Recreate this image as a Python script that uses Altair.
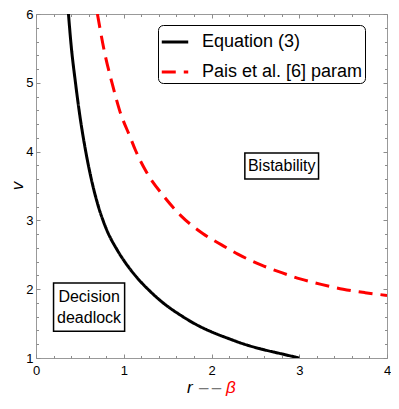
import altair as alt
import pandas as pd

# ---- data ----
series_names = ["Equation (3)", "Pais et al. [6] param"]

eq_r = [0.37, 0.40, 0.45, 0.50, 0.56, 0.62, 0.70, 0.80, 0.93, 1.05, 1.15, 1.30,
        1.45, 1.65, 1.82, 2.00, 2.20, 2.40, 2.60, 2.80, 3.00]
eq_v = [6.00, 5.55, 5.00, 4.52, 4.05, 3.66, 3.25, 2.88, 2.56, 2.33, 2.17, 1.97,
        1.80, 1.62, 1.49, 1.38, 1.28, 1.19, 1.12, 1.06, 1.00]

pais_r = [0.70, 0.78, 0.87, 0.95, 1.08, 1.13, 1.26, 1.45, 1.65, 1.90, 2.12, 2.30,
          2.57, 2.80, 3.01, 3.25, 3.50, 3.75, 4.00]
pais_v = [6.00, 5.45, 4.98, 4.61, 4.19, 4.03, 3.70, 3.36, 3.07, 2.81, 2.64, 2.51,
          2.35, 2.24, 2.15, 2.07, 2.00, 1.95, 1.91]

x_major = [0, 1, 2, 3, 4]
x_minor = [0.2, 0.4, 0.6, 0.8, 1.2, 1.4, 1.6, 1.8, 2.2, 2.4, 2.6, 2.8,
           3.2, 3.4, 3.6, 3.8]
y_major = [1, 2, 3, 4, 5, 6]
y_minor = [1.2, 1.4, 1.6, 1.8, 2.2, 2.4, 2.6, 2.8, 3.2, 3.4, 3.6, 3.8,
           4.2, 4.4, 4.6, 4.8, 5.2, 5.4, 5.6, 5.8]

region_text = ["Bistability", "Decision", "deadlock"]
region_x = [2.80, 0.605, 0.605]
region_y = [3.79, 1.88, 1.58]

box_x1 = [2.38, 0.20]
box_x2 = [3.22, 1.01]
box_y1 = [3.60, 1.39]
box_y2 = [3.98, 2.09]

W, H = 351, 344
FONT = "Liberation Sans"
FRAME = "#999999"
TICKC = "#8c8c8c"

curves = pd.DataFrame({
    "r": eq_r + pais_r,
    "v": eq_v + pais_v,
    "series": [series_names[0]] * len(eq_r) + [series_names[1]] * len(pais_r),
    "order": list(range(len(eq_r))) + list(range(len(pais_r))),
})
boxes_df = pd.DataFrame({"x1": box_x1, "x2": box_x2, "y1": box_y1, "y2": box_y2})
labels_df = pd.DataFrame({"x": region_x, "y": region_y, "t": region_text})


def xs():
    return alt.Scale(domain=[0, 4], nice=False, zero=False)


def ys():
    return alt.Scale(domain=[1, 6], nice=False, zero=False)


legend = alt.Legend(
    title=None, orient="none", legendX=122, legendY=11,
    fillColor="white", strokeColor="black", cornerRadius=5, padding=2,
    symbolType="stroke", symbolSize=700, symbolStrokeWidth=3,
    labelFontSize=18, labelFont=FONT, labelColor="black", labelOffset=12,
    labelLimit=400, rowPadding=6,
)

lines = alt.Chart(curves).mark_line(strokeWidth=3, clip=True, interpolate="monotone").encode(
    x=alt.X("r:Q", scale=xs(), axis=alt.Axis(
        orient="bottom", values=x_major, format="d", ticks=False, domain=False,
        grid=False, labelFontSize=13, labelFont=FONT, labelColor="black",
        labelPadding=6, labelFlush=False, labelOverlap=False, title=None)),
    y=alt.Y("v:Q", scale=ys(), axis=alt.Axis(
        orient="left", values=y_major, format="d", ticks=False, domain=False,
        grid=False, labelFontSize=13, labelFont=FONT, labelColor="black",
        labelPadding=3, labelFlush=False, labelOverlap=False, title=None)),
    color=alt.Color("series:N", scale=alt.Scale(domain=series_names,
                                                range=["#000000", "#ff0000"]),
                    legend=legend),
    strokeDash=alt.StrokeDash("series:N", scale=alt.Scale(domain=series_names,
                                                          range=[[1, 0], [14, 8]]),
                              legend=legend),
    order="order:Q",
)


def tick_layer(xvals, yvals, size, xorient, yorient):
    return alt.Chart(curves).mark_point(opacity=0).encode(
        x=alt.X("r:Q", scale=xs(), axis=alt.Axis(
            orient=xorient, offset=-H, values=xvals, tickSize=size,
            tickColor=TICKC, tickWidth=1, labels=False, domain=False,
            grid=False, title=None)),
        y=alt.Y("v:Q", scale=ys(), axis=alt.Axis(
            orient=yorient, offset=-W, values=yvals, tickSize=size,
            tickColor=TICKC, tickWidth=1, labels=False, domain=False,
            grid=False, title=None)),
    )


ticks = [
    tick_layer(x_major, y_major, 4, "top", "right"),
    tick_layer(x_minor, y_minor, 2.5, "top", "right"),
    tick_layer(x_major, y_major, 4, "bottom", "left"),
    tick_layer(x_minor, y_minor, 2.5, "bottom", "left"),
]

boxes = alt.Chart(boxes_df).mark_rect(fill="white", stroke="black", strokeWidth=1.5).encode(
    x=alt.X("x1:Q", scale=xs(), axis=None), x2="x2:Q",
    y=alt.Y("y1:Q", scale=ys(), axis=None), y2="y2:Q",
)

region_labels = alt.Chart(labels_df).mark_text(
    fontSize=16, font=FONT, color="black").encode(
    x=alt.X("x:Q", scale=xs(), axis=None),
    y=alt.Y("y:Q", scale=ys(), axis=None),
    text="t:N",
)

one = pd.DataFrame({"a": [0]})
title_y = H + 30
t_v = alt.Chart(one).mark_text(
    text="v", font=FONT, fontSize=17, fontStyle="italic", color="black",
    align="center", baseline="middle", angle=270).encode(
    x=alt.value(-18), y=alt.value(H / 2))
t_r = alt.Chart(one).mark_text(
    text="r", font=FONT, fontSize=17, fontStyle="italic", color="black",
    align="left", baseline="middle").encode(x=alt.value(151), y=alt.value(title_y))
t_dash = alt.Chart(one).mark_text(
    text="\u2013\u2009\u2013", font=FONT, fontSize=17, color="#777777",
    align="left", baseline="middle").encode(x=alt.value(163), y=alt.value(title_y))
t_beta = alt.Chart(one).mark_text(
    text="β", font=FONT, fontSize=17, fontStyle="italic", color="#ff0000",
    align="left", baseline="middle").encode(x=alt.value(190), y=alt.value(title_y))

chart = alt.layer(
    boxes, region_labels, *ticks, lines, t_v, t_r, t_dash, t_beta
).resolve_scale(
    x="independent", y="independent"
).resolve_axis(
    x="independent", y="independent"
).properties(
    width=W, height=H,
    autosize=alt.AutoSizeParams(type="none"),
    padding={"left": 28, "top": 6, "right": 4, "bottom": 39},
    background="white",
).configure_view(stroke=FRAME, strokeWidth=1)

chart.save("out.html", embed_options={"renderer": "svg", "actions": False})
